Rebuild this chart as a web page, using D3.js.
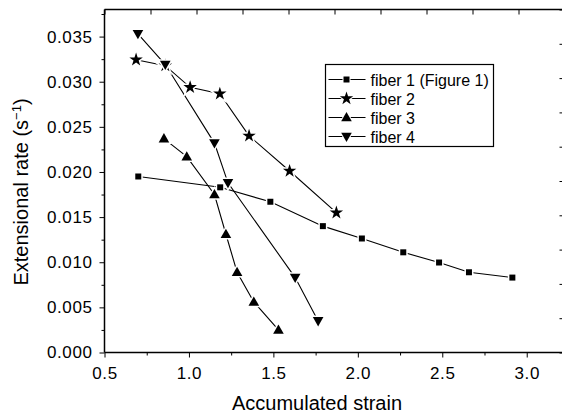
<!DOCTYPE html>
<html>
<head>
<meta charset="utf-8">
<script src="https://cdn.jsdelivr.net/npm/d3@7"></script>
<style>
  body { margin: 0; background: #fff; overflow: hidden; }
  svg { display: block; font-family: "Liberation Sans", Arial, sans-serif; }
</style>
</head>
<body>
<script>
// data
const fiber1X = [0.70, 1.185, 1.482, 1.793, 2.024, 2.269, 2.481, 2.658, 2.915];
const fiber1Y = [0.0195, 0.0183, 0.0167, 0.0140, 0.01263, 0.0111, 0.00997, 0.00889, 0.0083];
const fiber2X = [0.687, 0.86, 1.007, 1.183, 1.356, 1.596, 1.873];
const fiber2Y = [0.03244, 0.03178, 0.02938, 0.02867, 0.0240, 0.02011, 0.01549];
const fiber3X = [0.852, 0.987, 1.151, 1.219, 1.285, 1.384, 1.53];
const fiber3Y = [0.0237, 0.0217, 0.0175, 0.0131, 0.0089, 0.0056, 0.0025];
const fiber4X = [0.698, 0.86, 1.151, 1.231, 1.629, 1.765];
const fiber4Y = [0.0353, 0.0319, 0.0232, 0.0188, 0.0083, 0.0035];
const seriesNames = ['fiber 1 (Figure 1)', 'fiber 2', 'fiber 3', 'fiber 4'];
const seriesSymbols = ['square', 'star', 'up', 'down'];
const xTicks = [0.5, 1.0, 1.5, 2.0, 2.5, 3.0];
const yTicks = [0, 0.005, 0.01, 0.015, 0.02, 0.025, 0.03, 0.035];

const W = 562, H = 414;
const pLeft = 104.5, pRight = 564.5, pTop = 9.5, pBottom = 352.5;

const svg = d3.select('body').append('svg')
  .attr('width', W).attr('height', H);

const x = d3.scaleLinear().domain([0.5, 3.2237]).range([pLeft, pRight]);
const y = d3.scaleLinear().domain([0, 0.038]).range([pBottom, pTop]);
// mirrored frame axes (top/right) only carry 10 evenly spaced inner ticks
const xTop = d3.scaleLinear().domain([0, 10]).range([pLeft, pRight]);
const yRight = d3.scaleLinear().domain([0, 10]).range([pBottom, pTop]);

const fmtY = d3.format('.3f');
const fmtX = d3.format('.1f');

function styleLabels(g) {
  g.selectAll('text')
    .attr('font-size', 17)
    .attr('letter-spacing', 0.6)
    .attr('fill', '#000')
    .attr('font-family', 'Liberation Sans, Arial, sans-serif');
}

// bottom axis
const xMinor = d3.range(0.75, 3.26, 0.5);
svg.append('g').attr('transform', `translate(0,${pBottom})`)
  .call(d3.axisBottom(x).tickValues(xMinor).tickSize(3).tickFormat(''));
svg.append('g').attr('transform', `translate(0,${pBottom})`)
  .call(d3.axisBottom(x).tickValues(xTicks).tickSize(5).tickSizeOuter(0).tickFormat(fmtX).tickPadding(9))
  .call(styleLabels);

// left axis
const yMinor = d3.range(0.0025, 0.038, 0.005);
svg.append('g').attr('transform', `translate(${pLeft},0)`)
  .call(d3.axisLeft(y).tickValues(yMinor).tickSize(3).tickFormat(''));
svg.append('g').attr('transform', `translate(${pLeft},0)`)
  .call(d3.axisLeft(y).tickValues(yTicks).tickSize(5).tickSizeOuter(0).tickFormat(fmtY).tickPadding(7))
  .call(styleLabels);

// top and right frame ticks
svg.append('g').attr('transform', `translate(0,${pTop})`)
  .call(d3.axisTop(xTop).ticks(10).tickSize(-5).tickSizeOuter(0).tickFormat(''));
svg.append('g').attr('transform', `translate(${pRight},0)`)
  .call(d3.axisRight(yRight).ticks(10).tickSize(-5).tickSizeOuter(0).tickFormat(''));

svg.selectAll('.domain').remove();
svg.selectAll('.tick line').attr('stroke', '#000').attr('stroke-width', 1);

// plot frame
const frame = svg.append('g').attr('stroke', '#000').attr('stroke-width', 1.5);
frame.append('line').attr('x1', pLeft).attr('x2', pLeft).attr('y1', pTop).attr('y2', pBottom);
frame.append('line').attr('x1', pLeft).attr('x2', pRight).attr('y1', pBottom).attr('y2', pBottom);
frame.append('line').attr('x1', pLeft).attr('x2', pRight).attr('y1', pTop).attr('y2', pTop);
frame.append('line').attr('x1', pRight).attr('x2', pRight).attr('y1', pTop).attr('y2', pBottom);

// axis titles
svg.append('text')
  .attr('x', 317).attr('y', 410)
  .attr('text-anchor', 'middle').attr('font-size', 20)
  .text('Accumulated strain');

const yt = svg.append('text')
  .attr('transform', `translate(28,192) rotate(-90)`)
  .attr('text-anchor', 'middle').attr('font-size', 20);
yt.append('tspan').text('Extensional rate (s');
yt.append('tspan').attr('font-size', 13).attr('dy', -7).text('\u22121');
yt.append('tspan').attr('dy', 7).text(')');

// symbols
const triUp = 'M0,-5.5L5.3,3.8L-5.3,3.8Z';
const triDown = 'M0,5.5L5.3,-3.8L-5.3,-3.8Z';
function symbolPath(kind) {
  if (kind === 'square') return 'M-3,-3H3V3H-3Z';
  if (kind === 'star') return d3.symbol(d3.symbolStar, 56)();
  if (kind === 'up') return triUp;
  return triDown;
}

const series = [
  [fiber1X, fiber1Y], [fiber2X, fiber2Y], [fiber3X, fiber3Y], [fiber4X, fiber4Y]
].map(([xs, ys], i) => ({
  name: seriesNames[i], symbol: seriesSymbols[i],
  pts: xs.map((v, j) => [v, ys[j]])
}));

const line = d3.line().x(d => x(d[0])).y(d => y(d[1]));
const plot = svg.append('g');

series.forEach(s => {
  plot.append('path').attr('d', line(s.pts))
    .attr('fill', 'none').attr('stroke', '#000').attr('stroke-width', 1.1);
});
series.forEach(s => {
  const g = plot.append('g');
  g.selectAll('path.halo').data(s.pts).join('path')
    .attr('class', 'halo')
    .attr('d', symbolPath(s.symbol))
    .attr('transform', d => `translate(${x(d[0])},${y(d[1])})`)
    .attr('fill', '#fff').attr('stroke', '#fff').attr('stroke-width', 3);
  g.selectAll('path.mk').data(s.pts).join('path')
    .attr('class', 'mk')
    .attr('d', symbolPath(s.symbol))
    .attr('transform', d => `translate(${x(d[0])},${y(d[1])})`)
    .attr('fill', '#000');
});

// legend
const lg = svg.append('g').attr('transform', 'translate(325.5,64.5)');
lg.append('rect').attr('width', 168).attr('height', 82)
  .attr('fill', '#fff').attr('stroke', '#000').attr('stroke-width', 1.2);
series.forEach((s, i) => {
  const cy = 15 + i * 19;
  lg.append('line').attr('x1', 3).attr('x2', 40).attr('y1', cy).attr('y2', cy)
    .attr('stroke', '#000').attr('stroke-width', 1.1);
  lg.append('path').attr('d', symbolPath(s.symbol))
    .attr('transform', `translate(21,${cy})`)
    .attr('fill', '#000').attr('stroke', '#fff').attr('stroke-width', 2)
    .attr('paint-order', 'stroke');
  lg.append('text').attr('x', 45).attr('y', cy + 6)
    .attr('font-size', 16).text(s.name);
});
</script>
</body>
</html>
